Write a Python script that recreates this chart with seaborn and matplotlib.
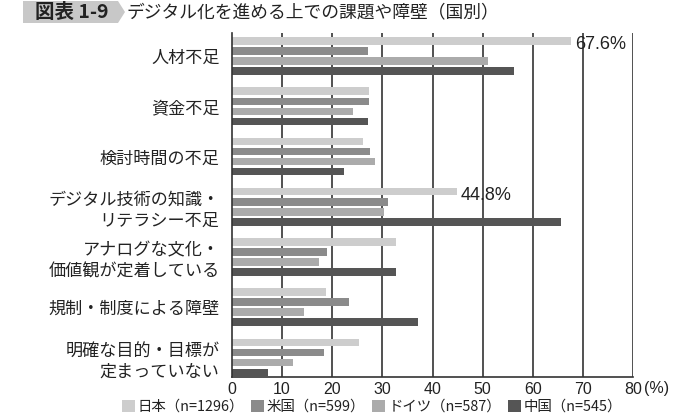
import numpy as np
import pandas as pd
import matplotlib
matplotlib.use('Agg')
import matplotlib.pyplot as plt
import seaborn as sns
from matplotlib.patches import Polygon, Patch

categories = ['人材不足', '資金不足', '検討時間の不足',
              'デジタル技術の知識・\nリテラシー不足',
              'アナログな文化・\n価値観が定着している',
              '規制・制度による障壁',
              '明確な目的・目標が\n定まっていない']
countries = ['日本（n=1296）', '米国（n=599）', 'ドイツ（n=587）', '中国（n=545）']
japan = [67.6, 27.4, 26.1, 44.8, 32.8, 18.7, 25.3]
usa = [27.1, 27.3, 27.5, 31.2, 19.0, 23.3, 18.3]
germany = [51.0, 24.1, 28.5, 30.4, 17.3, 14.4, 12.2]
china = [56.2, 27.1, 22.3, 65.7, 32.8, 37.2, 7.1]
xticks = [0, 10, 20, 30, 40, 50, 60, 70, 80]
labelled = {0: '67.6%', 3: '44.8%'}  # japan bars with value labels

colors = ['#cdcdcd', '#8b8b8b', '#ababab', '#555555']
grid_c = '#333333'

sns.set_style('white')
plt.rcParams['font.family'] = ['Noto Sans CJK JP', 'DejaVu Sans']

rows = []
for country, vals in zip(countries, [japan, usa, germany, china]):
    for cat, v in zip(categories, vals):
        rows.append({'課題': cat, '割合': v, '国': country})
df = pd.DataFrame(rows)

W, H = 693, 415
fig = plt.figure(figsize=(W / 100, H / 100), dpi=100)
ax = fig.add_axes([232 / W, 1 - 377 / H, (633 - 232) / W, (377 - 33) / H])

sns.barplot(data=df, y='課題', x='割合', hue='国', orient='h',
            order=categories, hue_order=countries, palette=colors,
            width=0.8, gap=0.25, linewidth=0, legend=False, ax=ax,
            zorder=2)

ax.set_xlim(0, 80)
ax.set_ylim(6.39, -0.46)
ax.set_xticks(xticks)
ax.set_xlabel('')
ax.set_ylabel('')
for x in xticks[1:]:
    ax.axvline(x, color=grid_c, lw=1.2, zorder=1)
for s in ['top', 'right']:
    ax.spines[s].set_visible(False)
for s in ['left', 'bottom']:
    ax.spines[s].set_color(grid_c)
    ax.spines[s].set_linewidth(1.2)
ax.tick_params(axis='x', length=0, pad=3.5, labelsize=11.5, colors='#222222')
ax.tick_params(axis='y', length=0, pad=9, labelsize=12.3, colors='#222222')
for lbl in ax.get_xticklabels():
    lbl.set_fontfamily('Liberation Sans')
for lbl in ax.get_yticklabels():
    lbl.set_linespacing(1.25)

ax.annotate('(%)', xy=(80, 0), xycoords=('data', 'axes fraction'),
            xytext=(8.2, -8.3), textcoords='offset points',
            ha='left', va='center', fontsize=11.5, color='#222222',
            family='Liberation Sans')

# value labels next to selected japan bars
jp_bars = ax.containers[0]
for i, txt in labelled.items():
    b = jp_bars[i]
    yc = b.get_y() + b.get_height() / 2
    ax.annotate(txt, xy=(b.get_width(), yc), xytext=(3, -2.5),
                textcoords='offset points', ha='left', va='center',
                fontsize=13, color='#222222', family='Liberation Sans')

# title with grey arrow box
pts = [(23, 1), (118, 1), (125, 12), (118, 23), (23, 23)]
fig.patches.append(Polygon([(x / W, 1 - y / H) for x, y in pts],
                           closed=True, facecolor='#c8c8c8', edgecolor='none',
                           transform=fig.transFigure))
fig.text(35 / W, 1 - 12.5 / H, '図表 1-9', ha='left', va='center',
         fontsize=14, fontweight='semibold', color='#222222')
fig.text(127 / W, 1 - 12.5 / H, 'デジタル化を進める上での課題や障壁（国別）',
         ha='left', va='center', fontsize=12.8, color='#222222')

handles = [Patch(facecolor=c, edgecolor='none') for c in colors]
fig.legend(handles, countries, ncol=4, loc='center',
           bbox_to_anchor=(372 / W, 1 - 407 / H), frameon=False,
           handlelength=0.9, handleheight=0.9, handletextpad=0.2,
           columnspacing=0.5, fontsize=10.4, borderaxespad=0,
           labelcolor='#222222')

fig.savefig('out.png', dpi=100)
